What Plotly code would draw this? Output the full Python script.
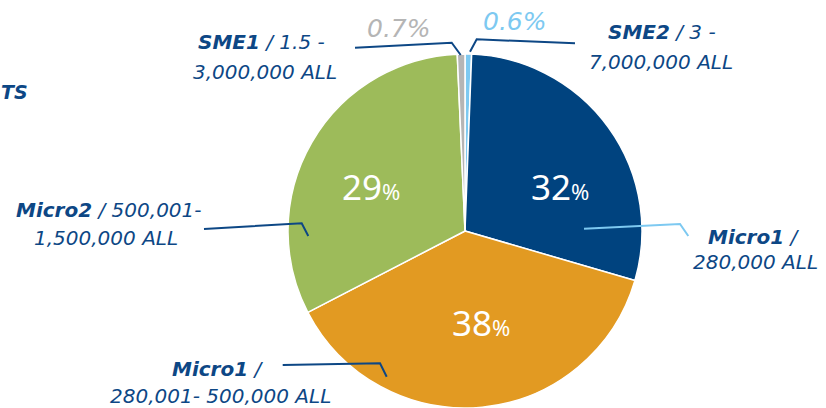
import plotly.graph_objects as go

# ---- data ----
categories = ["SME2", "Micro1", "Micro1", "Micro2", "SME1"]
range_first = ["3 -", "", "", "500,001-", "1.5 -"]
range_second = ["7,000,000 ALL", "280,000 ALL", "280,001- 500,000 ALL", "1,500,000 ALL", "3,000,000 ALL"]
slice_share = [0.6, 29, 38, 32, 0.7]          # slice sizes as drawn
shown_pct = ["0.6", "32", "38", "29", "0.7"]  # percentages as printed
colors = ["#7DC9F1", "#00437F", "#E29A22", "#9DBB5A", "#B5B5B5"]

W, H = 826, 408
NAVY = "#0D4785"
LBL_FONT = "DejaVu Sans"
NUM_FONT = "Noto Sans"

def px(x, y):
    return x / W, 1 - y / H

# pie geometry (layout)
cx, cy, r = 465, 231, 177
dom_x = [(cx - r) / W, (cx + r) / W]
dom_y = [1 - (cy + r) / H, 1 - (cy - r) / H]

fig = go.Figure(go.Pie(
    values=slice_share,
    labels=[f"{c} / {a} {b}" for c, a, b in zip(categories, range_first, range_second)],
    textinfo="none",
    marker=dict(colors=colors, line=dict(color="white", width=1.5)),
    sort=False,
    direction="clockwise",
    rotation=0,
    domain=dict(x=dom_x, y=dom_y),
    showlegend=False,
    hoverinfo="label+value",
))

annotations = []

def add_text(xx, yy, txt, size, color, family, xanchor="center"):
    ax, ay = px(xx, yy)
    annotations.append(dict(x=ax, y=ay, xref="paper", yref="paper", text=txt,
                            showarrow=False, xanchor=xanchor, yanchor="middle",
                            font=dict(family=family, size=size, color=color)))

# category labels (layout): (line1 center x, y), (line2 center x, y)
label_pos = [
    ((662, 32), (661, 62)),
    ((753, 237), (755, 262)),
    ((218, 369), (220, 396)),
    ((109, 210), (106, 238)),
    ((261, 42), (265, 72)),
]
for i in range(len(categories)):
    l1 = f"<b>{categories[i]}</b> /" + (f" {range_first[i]}" if range_first[i] else "")
    (x1, y1), (x2, y2) = label_pos[i]
    add_text(x1, y1, f"<i>{l1}</i>", 20, NAVY, LBL_FONT)
    add_text(x2, y2, f"<i>{range_second[i]}</i>", 20, NAVY, LBL_FONT)

# percentages inside the large slices
inside_pos = {1: (560, 187), 2: (481, 322), 3: (371, 187)}
for i, (xx, yy) in inside_pos.items():
    add_text(xx, yy, f"{shown_pct[i]}<span style='font-size:22px'>%</span>", 35, "white", NUM_FONT)

# small-slice percentage labels
small_pos = {0: (515, 21), 4: (399, 29)}
for i, (xx, yy) in small_pos.items():
    add_text(xx, yy, f"<i>{shown_pct[i]}%</i>", 25, colors[i], LBL_FONT)

# title fragment at the left edge
add_text(-1, 92, "<b><i>TS</i></b>", 19, NAVY, LBL_FONT, xanchor="left")

# leader lines (layout)
leaders = [
    ([(470, 51.7), (476.7, 39.3), (575, 43.3)], NAVY),
    ([(584, 228.7), (680, 224), (688.3, 236)], "#7DC9F1"),
    ([(282.7, 365), (380, 363.3), (386.7, 376.7)], NAVY),
    ([(204, 229), (301.7, 223.3), (308.3, 236)], NAVY),
    ([(355, 47.7), (451.7, 42.7), (460.7, 55)], NAVY),
]
shapes = []
for pts, col in leaders:
    path = ""
    for k, (xx, yy) in enumerate(pts):
        ax, ay = px(xx, yy)
        path += ("M" if k == 0 else " L") + f" {ax:.5f} {ay:.5f}"
    shapes.append(dict(type="path", path=path, xref="paper", yref="paper",
                       line=dict(color=col, width=2)))

fig.update_layout(
    width=W, height=H,
    margin=dict(l=0, r=0, t=0, b=0),
    paper_bgcolor="white", plot_bgcolor="white",
    annotations=annotations, shapes=shapes,
)

fig.write_html("out.html", config={"displayModeBar": False},
               post_script="document.body.style.margin='0px';document.body.style.padding='0px';")
